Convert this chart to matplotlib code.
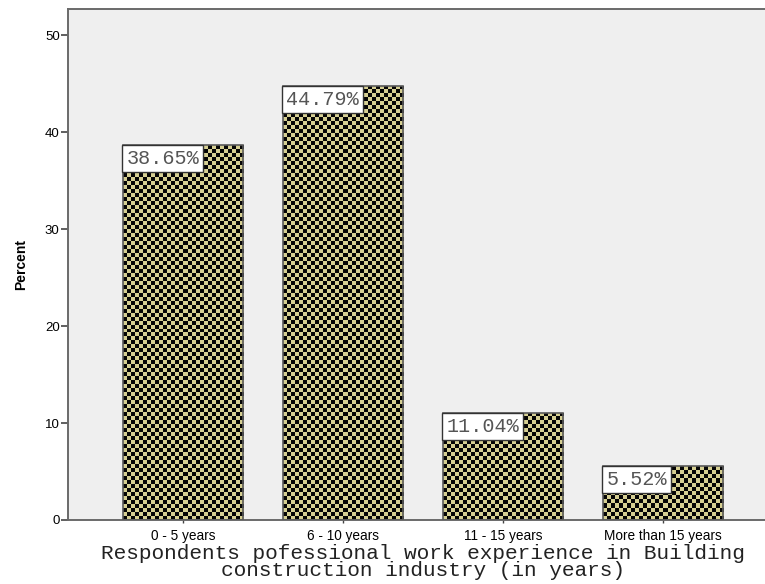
import numpy as np
import matplotlib
matplotlib.use("Agg")
import matplotlib.pyplot as plt

categories = ["0 - 5 years", "6 - 10 years", "11 - 15 years", "More than 15 years"]
percents = [38.65, 44.79, 11.04, 5.52]
labels = ["38.65%", "44.79%", "11.04%", "5.52%"]

BG = "#efefef"
KHAKI = "#d6cf92"
EDGE = "#5a5a5a"

fig = plt.figure(figsize=(7.65, 5.84), dpi=100)
fig.patch.set_facecolor("white")
ax = fig.add_axes([68 / 765, 64 / 584, 697 / 765, 511 / 584])
ax.set_facecolor(BG)

x = np.arange(len(categories))
width = 0.75
ax.set_xlim(-0.72, 3.636)
ax.set_ylim(0, 52.7)

bars = ax.bar(x, percents, width=width, color=KHAKI, edgecolor="none", zorder=2)

# checkerboard texture, 4 px cells, clipped to each bar
cell = 4
for b in bars:
    x0, y0 = b.get_x(), b.get_y()
    x1, y1 = x0 + b.get_width(), y0 + b.get_height()
    (px0, py0), (px1, py1) = ax.transData.transform([(x0, y0), (x1, y1)])
    nx = max(1, int(round((px1 - px0) / cell)))
    ny = max(1, int(round((py1 - py0) / cell)))
    ii, jj = np.indices((ny, nx))
    mask = (ii + jj) % 2
    img = np.ones((ny, nx, 3))
    img[mask == 0] = matplotlib.colors.to_rgb(KHAKI)
    img[mask == 1] = (0.02, 0.02, 0.02)
    im = ax.imshow(img, extent=(x0, x1, y0, y1), origin="upper",
                   interpolation="nearest", aspect="auto", zorder=2.5)
    im.set_clip_path(b)

ax.bar(x, percents, width=width, fill=False, edgecolor=EDGE, linewidth=1.2, zorder=3)

for xi, v, lab in zip(x, percents, labels):
    ax.text(xi - width / 2 + 0.02, v - 0.4, lab, ha="left", va="top",
            fontsize=14.5, family="Liberation Mono", color="#555555", zorder=4,
            bbox=dict(boxstyle="square,pad=0.2", facecolor="white",
                      edgecolor="#333333", linewidth=1))

ax.set_xticks(x)
ax.set_xticklabels(categories, fontsize=9.8, family="Liberation Sans")
ax.set_yticks([0, 10, 20, 30, 40, 50])
ax.set_yticklabels(["0", "10", "20", "30", "40", "50"], fontsize=9.5,
                   family="Liberation Sans")
ax.tick_params(axis="y", direction="out", length=5, width=1.2, color="#444444", pad=1)
ax.tick_params(axis="x", direction="inout", length=5, width=1, color="#444444", pad=4)

for side in ["left", "bottom", "top"]:
    ax.spines[side].set_color("#6a6a6a")
    ax.spines[side].set_linewidth(1.4)
ax.spines["right"].set_visible(False)

ax.set_ylabel("Percent", fontsize=10, fontweight="bold", family="Liberation Sans", labelpad=12)
ax.set_xlabel("Respondents pofessional work experience in Building\nconstruction industry (in years)",
              fontsize=15.2, family="Liberation Mono", color="#222222",
              linespacing=0.84)
ax.xaxis.set_label_coords(0.509, -0.047, transform=ax.transAxes)

fig.savefig("out.png", dpi=100, facecolor="white")
